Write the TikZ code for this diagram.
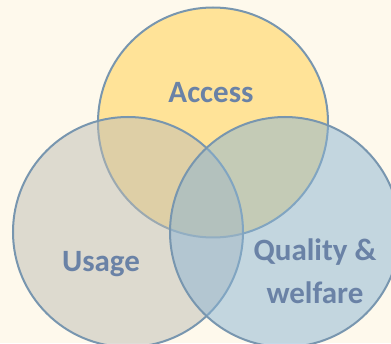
\documentclass[tikz,border=0pt]{standalone}
\usepackage{fontspec}
\setmainfont{Carlito}
\begin{document}
\definecolor{bgcream}{RGB}{254,249,236}
\definecolor{ringline}{RGB}{120,150,175}
\definecolor{accessfill}{RGB}{255,227,152}
\definecolor{usagefill}{RGB}{190,188,180}
\definecolor{qualityfill}{RGB}{138,180,212}
\definecolor{labeltext}{RGB}{106,130,166}
\begin{tikzpicture}[x=1pt,y=1pt,
  ring/.style={draw=ringline, line width=2pt, circle, minimum size=230pt, inner sep=0pt},
  label/.style={text=labeltext, font=\fontsize{31}{43}\selectfont\bfseries, align=center}]
  \useasboundingbox (0,0) rectangle (391,343);
  \clip (0,0) rectangle (391,343);
  \fill[bgcream] (0,0) rectangle (391,343);
  \node[ring, fill=accessfill] (access) at (213,220.5) {};
  \node[ring, fill=usagefill, fill opacity=0.5] (usage) at (128,111) {};
  \node[ring, fill=qualityfill, fill opacity=0.5] (quality) at (285,111) {};
  \node[label] (accesslabel) at (211,250) {Access};
  \node[label] (usagelabel) at (101,79) {Usage};
  \node[label] (qualitylabel) at (315,72) {Quality \&\\welfare};
\end{tikzpicture}
\end{document}
